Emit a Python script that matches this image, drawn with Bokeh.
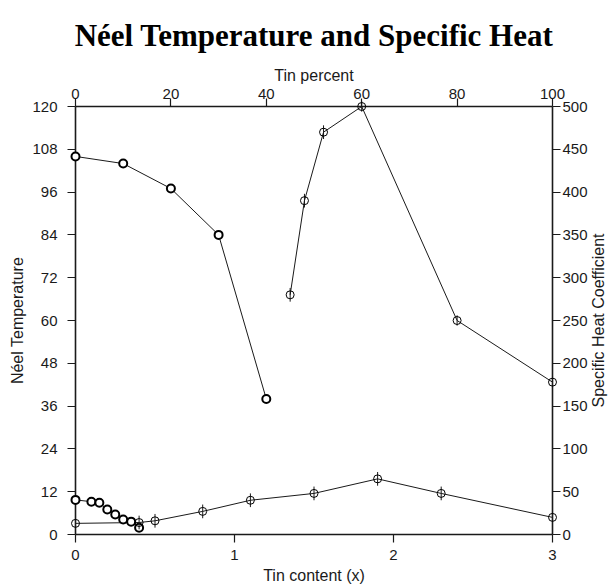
import math
from bokeh.plotting import figure
from bokeh.models import Range1d, LinearAxis, FixedTicker
from bokeh.core.properties import value
from bokeh.embed import file_html
from bokeh.resources import INLINE

title_text = "Néel Temperature and Specific Heat"
x_label = "Tin content (x)"
pct_label = "Tin percent"
neel_label = "Néel Temperature"
heat_label = "Specific Heat Coefficient"

x_ticks = [0, 1, 2, 3]
pct_ticks = [0, 20, 40, 60, 80, 100]
neel_ticks = [0, 12, 24, 36, 48, 60, 72, 84, 96, 108, 120]
heat_ticks = [0, 50, 100, 150, 200, 250, 300, 350, 400, 450, 500]

# Neel temperature (bold circles, left axis, tin content x)
neel_hi_x = [0, 0.3, 0.6, 0.9, 1.2]
neel_hi_y = [106, 104, 97, 84, 38]
neel_lo_x = [0, 0.1, 0.15, 0.2, 0.25, 0.3, 0.35, 0.4]
neel_lo_y = [9.7, 9.2, 8.9, 7.0, 5.6, 4.2, 3.6, 1.9]

# Specific heat coefficient (thin circles with error bars, right axis)
heat_hi_pct = [45, 48, 52, 60, 80, 100]
heat_hi_y = [280, 390, 470, 500, 250, 178]
heat_hi_err = [8, 8, 8, 6, 6, 6]
heat_lo_x = [0, 0.4, 0.5, 0.8, 1.1, 1.5, 1.9, 2.3, 3.0]
heat_lo_y = [13, 14, 16, 27, 40, 48, 65, 48, 20]
heat_lo_err = [4, 8, 8, 8, 8, 8, 8, 8, 6]

FONT = "Liberation Sans"
INK = "#1a1a1a"

p = figure(width=612, height=586, x_range=Range1d(0, 3), y_range=Range1d(0, 120),
           output_backend="svg", toolbar_location=None,
           min_border_left=75, min_border_right=60, min_border_top=106, min_border_bottom=49)
p.extra_x_ranges = {"pct": Range1d(0, 100)}
p.extra_y_ranges = {"heat": Range1d(0, 500)}
p.grid.visible = False
p.outline_line_color = None
p.background_fill_color = "white"
p.border_fill_color = "white"

p.title.text = title_text
p.title.text_font = "Liberation Serif"
p.title.text_font_size = "31px"
p.title.text_font_style = "bold"
p.title.align = "center"
p.title.text_color = "black"
p.title.standoff = 22

def style(ax, ticks, standoff, label_standoff):
    ax.ticker = FixedTicker(ticks=ticks)
    ax.minor_tick_line_color = None
    ax.major_tick_in = 0
    ax.major_tick_out = 8
    ax.major_tick_line_color = INK
    ax.major_tick_line_width = 1.2
    ax.axis_line_color = INK
    ax.axis_line_width = 1.6
    ax.major_label_text_font = FONT
    ax.major_label_text_font_size = "15px"
    ax.major_label_text_color = INK
    ax.major_label_standoff = standoff
    ax.axis_label_text_font = FONT
    ax.axis_label_text_font_size = "16px"
    ax.axis_label_text_font_style = "normal"
    ax.axis_label_text_color = INK
    ax.axis_label_standoff = label_standoff

xb = p.xaxis[0]
xb.axis_label = x_label
style(xb, x_ticks, 7, 4)

yl = p.yaxis[0]
yl.axis_label = neel_label
style(yl, neel_ticks, 10, 3)

xt = LinearAxis(x_range_name="pct", axis_label=pct_label)
style(xt, pct_ticks, 0, 2)
p.add_layout(xt, "above")

yr = LinearAxis(y_range_name="heat")
style(yr, heat_ticks, 2, 3)
p.add_layout(yr, "right")

# right axis title, reading bottom-to-top like the left one
p.text(x=[3], y=[250], y_range_name="heat", text=[heat_label], x_offset=46,
       angle=math.pi / 2, text_align="center", text_baseline="middle",
       text_font=value(FONT), text_font_size="16px", text_color=INK, level="overlay")

# Neel temperature
for xs, ys in ((neel_hi_x, neel_hi_y), (neel_lo_x, neel_lo_y)):
    p.line(xs, ys, line_color=INK, line_width=1)
    p.scatter(xs, ys, marker="circle", size=8, fill_color="white",
              line_color="black", line_width=2, level="overlay")

# Specific heat
p.line(heat_hi_pct, heat_hi_y, x_range_name="pct", y_range_name="heat",
       line_color=INK, line_width=1)
p.segment(heat_hi_pct, [v - e for v, e in zip(heat_hi_y, heat_hi_err)],
          heat_hi_pct, [v + e for v, e in zip(heat_hi_y, heat_hi_err)],
          x_range_name="pct", y_range_name="heat", line_color=INK, line_width=1,
          level="overlay")
p.scatter(heat_hi_pct, heat_hi_y, x_range_name="pct", y_range_name="heat",
          marker="circle", size=8, fill_color=None, line_color="black", line_width=1,
          level="overlay")

p.line(heat_lo_x, heat_lo_y, y_range_name="heat", line_color=INK, line_width=1)
p.segment(heat_lo_x, [v - e for v, e in zip(heat_lo_y, heat_lo_err)],
          heat_lo_x, [v + e for v, e in zip(heat_lo_y, heat_lo_err)],
          y_range_name="heat", line_color=INK, line_width=1, level="overlay")
p.scatter(heat_lo_x, heat_lo_y, y_range_name="heat",
          marker="circle", size=8, fill_color=None, line_color="black", line_width=1,
          level="overlay")

open("out.html", "w").write(file_html(p, INLINE))
